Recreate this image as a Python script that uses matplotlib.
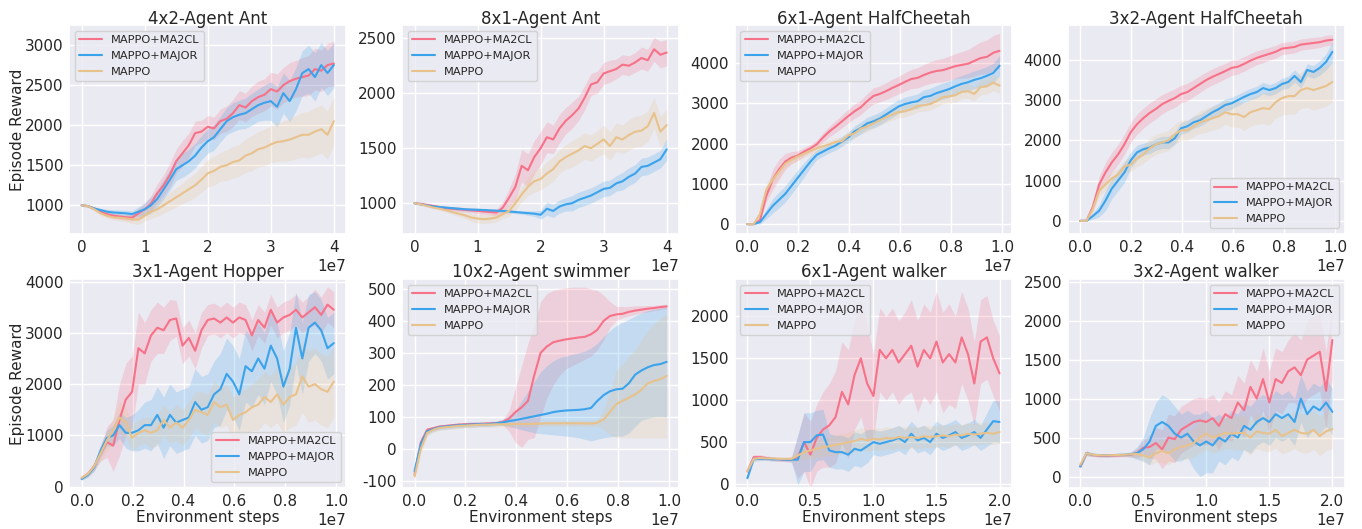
import numpy as np
import matplotlib
matplotlib.use('Agg')
import matplotlib.pyplot as plt
import seaborn as sns

# ---- data (41 samples per curve) ----
labels = ['MAPPO+MA2CL', 'MAPPO+MAJOR', 'MAPPO']
colors = ['#f77189', '#3ba3ec', '#e8c28c']

titles = ['4x2-Agent Ant', '8x1-Agent Ant', '6x1-Agent HalfCheetah', '3x2-Agent HalfCheetah',
          '3x1-Agent Hopper', '10x2-Agent swimmer', '6x1-Agent walker', '3x2-Agent walker']
x_max = [4.0e7, 4.0e7, 0.99e7, 0.99e7, 0.99e7, 0.99e7, 2.0e7, 2.0e7]

# 4x2-Agent Ant
ant42_ma2cl = [1000, 990, 960, 920, 890, 870, 860, 850, 845, 900, 950, 1020, 1150, 1250, 1380, 1550, 1650, 1750, 1900, 1920,
               1980, 1960, 2050, 2080, 2150, 2250, 2220, 2300, 2350, 2380, 2450, 2420, 2500, 2550, 2580, 2600, 2620, 2700, 2680, 2750, 2770]
ant42_ma2cl_std = [10, 15, 20, 25, 30, 30, 35, 35, 40, 60, 80, 100, 120, 130, 150, 150, 160, 150, 150, 140,
                   140, 140, 150, 160, 170, 180, 180, 190, 200, 200, 210, 220, 220, 230, 230, 240, 250, 260, 260, 270, 280]
ant42_major = [1000, 990, 960, 940, 920, 910, 905, 900, 890, 920, 950, 1000, 1080, 1200, 1320, 1450, 1500, 1550, 1620, 1720,
               1800, 1850, 1950, 2050, 2100, 2130, 2150, 2200, 2250, 2280, 2300, 2230, 2400, 2300, 2450, 2650, 2700, 2600, 2750, 2650, 2750]
ant42_major_std = [10, 15, 20, 25, 30, 35, 35, 40, 40, 60, 80, 100, 110, 120, 130, 140, 150, 150, 150, 150,
                   150, 160, 160, 170, 180, 180, 190, 200, 200, 220, 240, 250, 250, 260, 270, 280, 300, 300, 280, 280, 280]
ant42_mappo = [1000, 990, 950, 900, 870, 850, 845, 835, 825, 820, 870, 920, 950, 1000, 1050, 1100, 1150, 1200, 1250, 1320,
               1400, 1430, 1480, 1500, 1540, 1560, 1620, 1650, 1700, 1720, 1760, 1790, 1800, 1820, 1850, 1880, 1880, 1920, 1950, 1880, 2050]
ant42_mappo_std = [10, 15, 20, 25, 30, 35, 40, 45, 50, 60, 70, 80, 90, 100, 110, 120, 130, 140, 150, 160,
                   170, 180, 180, 190, 200, 200, 210, 220, 220, 230, 230, 240, 250, 260, 270, 280, 290, 300, 300, 300, 300]

# 8x1-Agent Ant
ant81_ma2cl = [1000, 995, 985, 975, 965, 955, 950, 945, 940, 935, 930, 925, 920, 915, 960, 1050, 1150, 1340, 1300, 1420,
               1500, 1600, 1580, 1680, 1750, 1800, 1860, 1960, 2080, 2100, 2180, 2200, 2220, 2260, 2250, 2280, 2320, 2300, 2400, 2350, 2370]
ant81_ma2cl_std = [5, 8, 10, 12, 15, 15, 18, 20, 20, 22, 25, 25, 25, 30, 50, 80, 120, 150, 150, 150,
                   150, 140, 130, 130, 120, 120, 110, 110, 100, 100, 100, 100, 90, 90, 90, 90, 100, 100, 110, 120, 120]
ant81_major = [1000, 990, 980, 970, 965, 960, 955, 950, 945, 942, 940, 938, 935, 932, 930, 925, 920, 915, 910, 905,
               895, 950, 930, 970, 990, 1000, 1030, 1050, 1070, 1100, 1130, 1140, 1180, 1200, 1240, 1270, 1330, 1340, 1370, 1400, 1490]
ant81_major_std = [5, 8, 10, 12, 12, 15, 15, 15, 15, 15, 15, 15, 15, 15, 15, 15, 15, 15, 20, 25,
                   40, 60, 60, 60, 60, 70, 70, 70, 70, 70, 70, 70, 70, 80, 80, 80, 80, 80, 80, 80, 100]
ant81_mappo = [1000, 990, 975, 960, 950, 935, 920, 905, 890, 870, 860, 855, 860, 870, 900, 930, 1000, 1080, 1150, 1200,
               1220, 1270, 1310, 1380, 1420, 1450, 1480, 1520, 1500, 1540, 1580, 1520, 1600, 1580, 1620, 1650, 1660, 1700, 1820, 1650, 1710]
ant81_mappo_std = [5, 8, 10, 12, 15, 18, 20, 25, 30, 35, 40, 40, 40, 40, 40, 50, 60, 70, 80, 100,
                   100, 110, 110, 110, 110, 120, 120, 120, 120, 120, 130, 130, 130, 130, 140, 140, 140, 140, 140, 140, 140]

# 6x1-Agent HalfCheetah
hc61_ma2cl = [0, 0, 100, 700, 1100, 1350, 1550, 1650, 1700, 1800, 1880, 1980, 2150, 2300, 2420, 2550, 2680, 2800, 2900, 3050,
              3180, 3230, 3300, 3380, 3450, 3530, 3600, 3630, 3700, 3760, 3800, 3820, 3870, 3920, 3950, 3980, 4050, 4120, 4150, 4250, 4300]
hc61_ma2cl_std = [0, 0, 50, 150, 250, 250, 200, 150, 120, 100, 100, 100, 120, 130, 150, 160, 170, 180, 180, 190,
                  200, 200, 210, 220, 220, 230, 240, 250, 260, 270, 280, 290, 300, 310, 330, 350, 380, 400, 420, 430, 440]
hc61_major = [0, 0, 50, 250, 450, 600, 750, 950, 1150, 1350, 1550, 1720, 1800, 1880, 1950, 2050, 2150, 2300, 2380, 2500,
              2550, 2620, 2720, 2820, 2920, 2980, 3020, 3050, 3150, 3180, 3250, 3300, 3350, 3420, 3480, 3520, 3580, 3620, 3680, 3750, 3930]
hc61_major_std = [0, 0, 50, 120, 180, 200, 200, 200, 200, 180, 150, 120, 110, 110, 110, 120, 130, 140, 150, 150,
                  160, 160, 160, 170, 170, 170, 170, 180, 180, 190, 190, 200, 200, 210, 210, 220, 220, 230, 230, 240, 250]
hc61_mappo = [0, 0, 250, 850, 1100, 1300, 1500, 1600, 1680, 1750, 1820, 1880, 1930, 1980, 2040, 2060, 2200, 2250, 2370, 2420,
              2500, 2580, 2650, 2720, 2780, 2800, 2850, 2930, 2950, 2980, 3050, 3150, 3170, 3200, 3280, 3300, 3230, 3400, 3420, 3510, 3440]
hc61_mappo_std = [0, 0, 80, 150, 150, 120, 100, 100, 100, 100, 100, 100, 100, 100, 100, 110, 110, 120, 120, 130,
                  130, 130, 130, 140, 140, 140, 140, 150, 150, 150, 150, 160, 160, 170, 170, 180, 180, 190, 190, 200, 200]

# 3x2-Agent HalfCheetah
hc32_ma2cl = [0, 0, 350, 900, 1200, 1450, 1650, 1900, 2200, 2400, 2550, 2680, 2780, 2900, 2980, 3050, 3150, 3200, 3300, 3400,
              3500, 3580, 3650, 3720, 3800, 3830, 3900, 3980, 4050, 4100, 4150, 4200, 4280, 4300, 4320, 4380, 4400, 4420, 4440, 4480, 4500]
hc32_ma2cl_std = [0, 0, 100, 200, 250, 250, 250, 250, 250, 250, 250, 250, 250, 240, 230, 230, 220, 220, 210, 210,
                  200, 200, 200, 190, 190, 180, 180, 180, 170, 170, 160, 160, 150, 150, 150, 140, 140, 140, 130, 130, 130]
hc32_major = [0, 0, 120, 250, 500, 800, 1000, 1200, 1500, 1700, 1780, 1820, 1900, 1950, 1950, 2050, 2300, 2350, 2450, 2500,
              2600, 2700, 2780, 2880, 2920, 3000, 3080, 3150, 3200, 3300, 3250, 3300, 3400, 3450, 3600, 3450, 3750, 3700, 3800, 3950, 4200]
hc32_major_std = [0, 0, 80, 150, 250, 250, 250, 250, 200, 180, 150, 150, 150, 150, 150, 150, 150, 150, 150, 150,
                  150, 150, 150, 150, 150, 140, 140, 140, 140, 140, 140, 140, 140, 150, 150, 150, 150, 160, 180, 200, 250]
hc32_mappo = [0, 0, 300, 750, 900, 1050, 1150, 1350, 1400, 1550, 1650, 1800, 1900, 1950, 2000, 2150, 2250, 2250, 2350, 2450,
              2500, 2550, 2600, 2700, 2650, 2650, 2580, 2700, 2750, 2800, 2780, 2950, 3050, 3100, 3100, 3250, 3300, 3250, 3300, 3350, 3450]
hc32_mappo_std = [0, 0, 100, 150, 150, 150, 150, 150, 180, 200, 220, 250, 250, 250, 250, 250, 250, 250, 250, 280,
                  300, 300, 300, 300, 320, 320, 330, 350, 350, 380, 400, 400, 420, 450, 450, 450, 480, 500, 500, 500, 500]

# 3x1-Agent Hopper
hop_ma2cl = [170, 250, 400, 650, 870, 800, 1300, 1700, 1850, 2700, 2600, 2950, 3100, 3050, 3250, 3280, 2750, 2900, 2650, 3050,
             3250, 3280, 3200, 3300, 3200, 3300, 3250, 2950, 3250, 3100, 3450, 3200, 3300, 3350, 3450, 3300, 3400, 3500, 3350, 3550, 3450]
hop_ma2cl_std = [30, 50, 80, 150, 300, 500, 700, 700, 700, 700, 600, 500, 500, 450, 400, 350, 350, 350, 350, 350,
                 300, 300, 300, 300, 300, 300, 300, 300, 300, 300, 300, 300, 300, 300, 300, 300, 300, 350, 350, 350, 350]
hop_major = [150, 230, 380, 700, 950, 1000, 1200, 1050, 1050, 1100, 1200, 1200, 1400, 1150, 1400, 1250, 1300, 1350, 1650, 1500,
             1550, 1800, 1900, 2200, 2050, 1800, 2350, 2250, 2500, 2300, 2750, 2500, 1950, 2300, 3100, 2500, 3100, 3200, 3050, 2700, 2800]
hop_major_std = [30, 50, 80, 120, 150, 200, 250, 300, 350, 400, 450, 500, 550, 600, 600, 600, 600, 600, 650, 650,
                 650, 650, 700, 700, 700, 700, 700, 700, 700, 700, 700, 700, 700, 700, 700, 700, 650, 600, 600, 600, 600]
hop_mappo = [170, 250, 400, 650, 900, 1100, 1350, 1250, 950, 1050, 1100, 1050, 1100, 1300, 1150, 1250, 1150, 1300, 1500, 1450,
             1400, 1650, 1550, 1600, 1300, 1400, 1450, 1550, 1600, 1750, 1650, 1800, 1600, 1750, 1800, 2150, 1950, 2000, 1900, 1850, 2050]
hop_mappo_std = [30, 50, 80, 150, 200, 250, 300, 300, 250, 250, 250, 300, 300, 300, 300, 350, 350, 350, 350, 400,
                 400, 400, 400, 400, 450, 450, 450, 450, 500, 500, 500, 550, 550, 600, 600, 700, 700, 700, 700, 700, 700]

# 10x2-Agent swimmer (asymmetric bands: lower / upper edges)
swim_ma2cl = [-80, 20, 60, 65, 70, 72, 74, 76, 77, 78, 78, 79, 80, 81, 84, 95, 115, 130, 150, 230,
              300, 320, 333, 338, 342, 345, 348, 350, 358, 372, 400, 415, 420, 422, 428, 432, 435, 438, 440, 443, 445]
swim_ma2cl_lo = [-95, 5, 55, 60, 65, 68, 70, 72, 73, 74, 74, 75, 76, 77, 75, 55, 20, 5, 30, 35,
                 100, 160, 200, 230, 250, 260, 270, 280, 290, 310, 340, 380, 400, 410, 415, 420, 425, 428, 432, 435, 438]
swim_ma2cl_hi = [-65, 35, 65, 70, 75, 76, 78, 80, 81, 82, 82, 83, 84, 85, 93, 120, 190, 260, 330, 390,
                 460, 485, 495, 500, 503, 505, 505, 505, 500, 495, 480, 460, 445, 445, 445, 447, 447, 448, 448, 450, 452]
swim_major = [-70, 15, 55, 62, 68, 70, 72, 74, 75, 76, 77, 77, 78, 80, 83, 87, 90, 94, 98, 102,
              106, 110, 115, 118, 120, 121, 122, 124, 128, 150, 168, 180, 186, 188, 205, 232, 245, 255, 262, 265, 272]
swim_major_lo = [-85, 0, 45, 55, 60, 62, 64, 66, 67, 68, 69, 70, 70, 72, 74, 70, 65, 60, 55, 50,
                 48, 46, 44, 42, 40, 38, 35, 30, 25, 30, 35, 38, 40, 40, 50, 70, 90, 95, 100, 100, 100]
swim_major_hi = [-55, 30, 65, 70, 75, 77, 79, 81, 83, 84, 85, 85, 86, 88, 92, 104, 120, 150, 180, 210,
                 240, 260, 275, 285, 290, 295, 300, 305, 315, 330, 350, 370, 385, 395, 405, 415, 425, 432, 436, 440, 442]
swim_mappo = [-85, 0, 50, 60, 66, 68, 70, 72, 73, 74, 75, 76, 76, 77, 77, 77, 78, 78, 78, 79,
              79, 80, 80, 80, 80, 80, 80, 80, 79, 82, 92, 115, 140, 150, 160, 170, 185, 205, 212, 218, 228]
swim_mappo_lo = [-100, -15, 40, 52, 58, 60, 62, 64, 65, 66, 67, 68, 68, 69, 69, 69, 70, 70, 70, 70,
                 70, 71, 71, 71, 71, 71, 71, 70, 70, 72, 60, 45, 35, 35, 35, 35, 35, 35, 35, 35, 35]
swim_mappo_hi = [-70, 15, 58, 66, 72, 74, 76, 78, 79, 80, 81, 82, 82, 83, 83, 83, 84, 84, 84, 86,
                 86, 87, 87, 87, 87, 88, 88, 88, 88, 92, 120, 180, 245, 265, 290, 310, 340, 370, 390, 410, 420]

# 6x1-Agent walker
wk61_ma2cl = [150, 320, 320, 310, 300, 295, 290, 290, 320, 500, 350, 550, 650, 700, 800, 1100, 950, 1300, 1500, 1200,
              1050, 1600, 1500, 1600, 1450, 1550, 1650, 1400, 1600, 1500, 1700, 1450, 1550, 1450, 1750, 1550, 1200, 1700, 1750, 1500, 1320]
wk61_ma2cl_std = [30, 30, 30, 25, 25, 25, 25, 30, 250, 350, 400, 400, 450, 500, 550, 600, 650, 650, 700, 700,
                  500, 500, 500, 500, 500, 500, 550, 550, 550, 550, 600, 600, 600, 550, 550, 550, 500, 500, 500, 450, 450]
wk61_major = [70, 300, 300, 300, 295, 295, 290, 290, 290, 500, 500, 580, 590, 400, 380, 380, 350, 420, 400, 450,
              500, 480, 500, 520, 550, 500, 600, 520, 550, 500, 600, 550, 580, 620, 550, 580, 620, 550, 650, 750, 740]
wk61_major_std = [30, 30, 20, 20, 20, 20, 20, 30, 300, 350, 350, 300, 300, 200, 200, 200, 200, 200, 200, 200,
                  150, 150, 150, 150, 150, 150, 150, 150, 150, 150, 150, 150, 150, 150, 150, 150, 150, 150, 200, 250, 250]
wk61_mappo = [150, 300, 310, 305, 305, 300, 300, 300, 340, 380, 400, 420, 440, 450, 470, 480, 500, 510, 540, 520,
              540, 530, 550, 540, 560, 550, 560, 550, 570, 560, 570, 580, 570, 590, 580, 600, 590, 600, 610, 600, 620]
wk61_mappo_std = [30, 30, 20, 20, 20, 20, 20, 30, 60, 80, 100, 100, 110, 110, 120, 120, 120, 130, 130, 130,
                  130, 130, 130, 130, 130, 130, 130, 130, 130, 130, 130, 130, 130, 130, 130, 130, 130, 130, 130, 130, 130]

# 3x2-Agent walker
wk32_ma2cl = [130, 300, 275, 270, 265, 270, 272, 275, 280, 300, 370, 380, 430, 350, 500, 480, 600, 650, 700, 720,
              700, 750, 650, 800, 750, 950, 850, 1150, 1000, 1250, 950, 1250, 1200, 1350, 1400, 1300, 1500, 1550, 1600, 1100, 1750]
wk32_ma2cl_std = [30, 30, 20, 20, 20, 20, 20, 20, 30, 60, 100, 150, 200, 250, 300, 300, 300, 300, 300, 300,
                  300, 300, 300, 300, 300, 350, 350, 350, 350, 400, 400, 400, 400, 400, 450, 450, 500, 500, 500, 500, 500]
wk32_major = [130, 300, 280, 275, 272, 275, 278, 280, 285, 300, 350, 450, 650, 700, 650, 550, 500, 550, 450, 400,
              450, 400, 500, 450, 550, 500, 650, 600, 700, 750, 700, 800, 750, 800, 700, 1000, 800, 900, 850, 950, 830]
wk32_major_std = [30, 30, 20, 20, 20, 20, 20, 20, 30, 80, 150, 300, 300, 350, 350, 350, 300, 300, 350, 400,
                  400, 350, 300, 300, 300, 300, 300, 300, 300, 300, 300, 300, 300, 300, 300, 300, 300, 300, 300, 300, 300]
wk32_mappo = [150, 300, 280, 275, 272, 275, 278, 280, 285, 290, 270, 250, 300, 330, 300, 350, 380, 400, 430, 500,
              550, 500, 530, 560, 550, 560, 560, 500, 580, 560, 550, 600, 520, 560, 600, 560, 550, 600, 520, 580, 610]
wk32_mappo_std = [30, 30, 20, 20, 20, 20, 20, 20, 30, 50, 80, 100, 120, 150, 150, 150, 150, 180, 180, 200,
                  200, 200, 200, 200, 200, 220, 220, 220, 220, 230, 230, 230, 230, 240, 240, 250, 250, 250, 250, 250, 250]

ylims = [(640, 3250), (719, 2620), (-248, 4940), (-330, 4866),
         (-26, 4052), (-122, 531), (-48, 2448), (-146, 2534)]
legend_locs = ['upper left', 'upper left', 'upper left', 'lower right',
               'lower right', 'upper left', 'upper left', 'upper right']


def sym(mean, std):
    m = np.array(mean, float)
    s = np.array(std, float)
    return m, m - s, m + s


panels = [
    [sym(ant42_ma2cl, ant42_ma2cl_std), sym(ant42_major, ant42_major_std), sym(ant42_mappo, ant42_mappo_std)],
    [sym(ant81_ma2cl, ant81_ma2cl_std), sym(ant81_major, ant81_major_std), sym(ant81_mappo, ant81_mappo_std)],
    [sym(hc61_ma2cl, hc61_ma2cl_std), sym(hc61_major, hc61_major_std), sym(hc61_mappo, hc61_mappo_std)],
    [sym(hc32_ma2cl, hc32_ma2cl_std), sym(hc32_major, hc32_major_std), sym(hc32_mappo, hc32_mappo_std)],
    [sym(hop_ma2cl, hop_ma2cl_std), sym(hop_major, hop_major_std), sym(hop_mappo, hop_mappo_std)],
    [(swim_ma2cl, swim_ma2cl_lo, swim_ma2cl_hi), (swim_major, swim_major_lo, swim_major_hi),
     (swim_mappo, swim_mappo_lo, swim_mappo_hi)],
    [sym(wk61_ma2cl, wk61_ma2cl_std), sym(wk61_major, wk61_major_std), sym(wk61_mappo, wk61_mappo_std)],
    [sym(wk32_ma2cl, wk32_ma2cl_std), sym(wk32_major, wk32_major_std), sym(wk32_mappo, wk32_mappo_std)],
]

sns.set_theme(style='darkgrid')
plt.rcParams['font.family'] = ['DejaVu Sans']

fig, axes = plt.subplots(2, 4, figsize=(13.62, 5.29), dpi=100)
fig.subplots_adjust(left=0.0507, right=0.9875, top=0.9527, bottom=0.0775, wspace=0.2, hspace=0.214)

for i, ax in enumerate(axes.flat):
    curves = panels[i]
    x = np.linspace(0, x_max[i], len(curves[0][0]))
    for (mean, lo, hi), label, color in zip(curves, labels, colors):
        ax.fill_between(x, lo, hi, color=color, alpha=0.22, linewidth=0)
        ax.plot(x, mean, color=color, lw=1.5, label=label)
    ax.set_title(titles[i], fontsize=12, pad=1)
    ax.set_ylim(ylims[i])
    ax.tick_params(labelsize=11, length=0, pad=4)
    ax.xaxis.get_offset_text().set_fontsize(11)
    ax.legend(loc=legend_locs[i], fontsize=8.2)
    if i % 4 == 0:
        ax.set_ylabel('Episode Reward', fontsize=11, labelpad=0)
    if i >= 4:
        ax.set_xlabel('Environment steps', fontsize=11, labelpad=1)

# 3x1-Agent Hopper ticks end at 1.0
axes[1, 0].set_xticks([0, 0.2e7, 0.4e7, 0.6e7, 0.8e7, 1.0e7])
axes[1, 1].set_yticks([-100, 0, 100, 200, 300, 400, 500])
axes[1, 1].set_yticklabels(['-100', '0', '100', '200', '300', '400', '500'])

fig.savefig('out.png', dpi=100)
